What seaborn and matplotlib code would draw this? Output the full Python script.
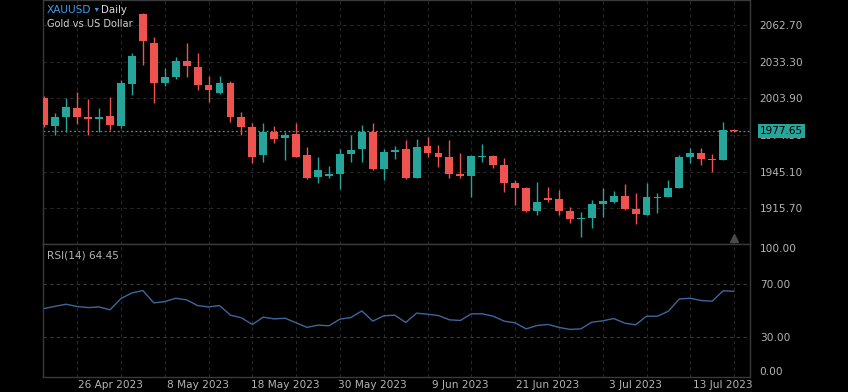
import numpy as np
import pandas as pd
import matplotlib
matplotlib.use("Agg")
import matplotlib.pyplot as plt
import matplotlib.transforms as mtransforms
import seaborn as sns

# ---------------- data ----------------
dates = pd.bdate_range("2023-04-18", "2023-07-14")

opens = [2003.9, 1981.7, 1988.7, 1996.4, 1989.2, 1987.6, 1989.5, 1981.7, 2015.4, 2071.3,
         2048.0, 2016.4, 2020.8, 2034.1, 2029.3, 2014.6, 2007.9, 2015.9, 1988.7, 1980.9,
         1958.2, 1977.2, 1971.9, 1975.1, 1958.2, 1941.1, 1942.0, 1943.2, 1959.0, 1963.0,
         1976.7, 1947.0, 1961.1, 1963.3, 1940.3, 1965.7, 1960.3, 1956.9, 1943.2, 1941.9,
         1957.1, 1957.9, 1950.7, 1936.3, 1932.3, 1913.8, 1923.7, 1922.9, 1913.8, 1906.9,
         1908.2, 1918.9, 1921.0, 1925.6, 1915.4, 1910.4, 1924.0, 1925.0, 1932.3, 1956.9,
         1960.0, 1955.3, 1954.5, 1978.5]
highs = [2006.0, 1991.9, 2003.9, 2009.2, 2003.4, 1995.9, 2005.2, 2018.6, 2040.0, 2072.5,
         2052.8, 2028.0, 2037.3, 2048.0, 2040.5, 2021.8, 2021.8, 2017.8, 1992.7, 1984.4,
         1983.9, 1982.0, 1977.2, 1984.4, 1964.6, 1957.1, 1949.6, 1963.0, 1974.5, 1982.5,
         1983.9, 1963.0, 1965.9, 1970.5, 1971.1, 1973.1, 1966.5, 1970.5, 1960.3, 1958.2,
         1967.3, 1958.2, 1955.8, 1938.4, 1933.1, 1937.1, 1933.1, 1930.4, 1917.0, 1913.0,
         1922.4, 1931.8, 1929.8, 1935.2, 1927.8, 1935.8, 1927.8, 1938.4, 1958.5, 1963.8,
         1963.8, 1959.3, 1984.7, 1979.0]
lows = [1980.5, 1974.5, 1977.2, 1983.3, 1974.5, 1977.2, 1978.5, 1979.9, 2006.6, 2030.6,
        1999.9, 2013.8, 2019.2, 2021.2, 2010.6, 2001.2, 2007.4, 1985.2, 1974.5, 1951.8,
        1953.1, 1968.3, 1954.5, 1956.5, 1939.5, 1936.3, 1939.8, 1930.9, 1953.1, 1953.1,
        1946.8, 1938.4, 1955.0, 1939.4, 1939.9, 1957.1, 1949.1, 1939.8, 1939.8, 1924.6,
        1953.1, 1947.8, 1929.0, 1918.4, 1913.0, 1910.4, 1920.5, 1910.4, 1903.7, 1892.5,
        1899.7, 1909.0, 1920.2, 1914.6, 1903.1, 1910.0, 1912.2, 1924.6, 1931.9, 1951.8,
        1950.4, 1945.1, 1954.1, 1976.8]
closes = [1982.5, 1988.7, 1996.7, 1988.7, 1987.6, 1989.2, 1982.3, 2015.9, 2037.8, 2049.6,
          2016.4, 2020.8, 2034.1, 2030.1, 2014.6, 2010.6, 2015.9, 1988.7, 1981.2, 1957.1,
          1977.2, 1971.5, 1974.5, 1957.1, 1940.3, 1946.4, 1943.0, 1959.0, 1962.5, 1977.2,
          1947.2, 1961.1, 1962.7, 1939.8, 1965.1, 1960.3, 1957.1, 1943.2, 1941.6, 1957.9,
          1957.9, 1950.4, 1936.0, 1932.3, 1913.3, 1920.5, 1922.4, 1913.6, 1906.9, 1908.2,
          1918.9, 1921.3, 1925.6, 1914.9, 1910.9, 1925.0, 1925.0, 1931.8, 1957.1, 1960.0,
          1955.0, 1954.5, 1978.5, 1977.65]
rsi = [51.5, 53.2, 54.7, 53.0, 52.2, 52.7, 50.5, 59.0, 63.2, 65.0,
       55.7, 56.7, 59.2, 58.0, 53.7, 52.7, 53.7, 46.5, 44.5, 39.5,
       45.0, 43.7, 44.2, 40.7, 37.3, 39.0, 38.5, 43.5, 44.7, 49.7,
       42.0, 46.0, 46.5, 41.0, 48.0, 47.2, 46.2, 43.0, 42.5, 47.5,
       47.5, 45.7, 42.0, 40.7, 36.2, 38.7, 39.5, 37.3, 35.8, 36.2,
       41.2, 42.2, 44.0, 40.5, 39.2, 45.7, 45.7, 49.5, 58.7, 59.2,
       57.5, 57.0, 64.8, 64.45]

price_ticks = [1915.70, 1945.10, 1974.50, 2003.90, 2033.30, 2062.70]
rsi_ticks = [0, 30, 70, 100]
last_price = 1977.65
symbol = "XAUUSD"
interval = "Daily"
description = "Gold vs US Dollar"
rsi_title = "RSI(14) 64.45"

# ---------------- style ----------------
BG = "#000000"
TEAL = "#26a69a"
RED = "#ef5350"
GRID = "#262626"
SPINE = "#3a3a3a"
TXT = "#b4b4b4"
RSI_C = "#3d679c"

sns.set_theme(style="dark", rc={
    "axes.facecolor": BG, "figure.facecolor": BG,
    "axes.edgecolor": SPINE, "grid.color": GRID,
    "text.color": TXT, "xtick.color": TXT, "ytick.color": TXT,
})
plt.rcParams["font.family"] = ["DejaVu Sans"]

W, H = 848, 392
fig = plt.figure(figsize=(W / 100, H / 100), dpi=100)
L, R = 43, 750
ax = fig.add_axes([L / W, (H - 244) / H, (R - L) / W, 244 / H])
ax2 = fig.add_axes([L / W, (H - 377) / H, (R - L) / W, 133 / H], sharex=ax)

x = np.arange(len(opens))
o = np.array(opens)
c = np.array(closes)
up = c >= o
cols = np.where(up, TEAL, RED)

# candles
ax.vlines(x, lows, highs, colors=cols, lw=1.0, zorder=3)
ax.bar(x, np.maximum(np.abs(c - o), 0.9), bottom=np.minimum(o, c), width=0.72,
       color=cols, linewidth=0, zorder=4)

# last price line
ax.axhline(last_price, color=TEAL, lw=0.9, ls=(0, (1.5, 2)), zorder=2)

# RSI
sns.lineplot(x=x, y=rsi, ax=ax2, color=RSI_C, lw=1.0, zorder=3)

# limits
ax.set_xlim(-0.12, 64.45)
ax.set_ylim(1887.1, 2082.7)
ax2.set_ylim(0, 100)

# grids
minor_pos = x[3::4]
label_idx = x[6::8]
for a in (ax, ax2):
    a.set_xticks(minor_pos, minor=True)
    a.grid(False)
    a.grid(True, which="minor", axis="x", color=GRID, ls=(0, (3, 3)), lw=0.8)
    a.tick_params(axis="both", which="both", length=0)
    for s in a.spines.values():
        s.set_color(SPINE)
        s.set_linewidth(1.0)
    a.set_facecolor(BG)
    a.set_axisbelow(True)

ax.set_yticks(price_ticks)
ax.set_yticklabels([f"{p:.2f}" for p in price_ticks])
ax.grid(True, which="major", axis="y", color=GRID, ls=(0, (3, 3)), lw=0.8)
ax.yaxis.tick_right()
ax.tick_params(axis="y", pad=7, labelsize=7.6, colors=TXT)
ax.tick_params(axis="x", labelbottom=False)

ax2.set_yticks(rsi_ticks)
ax2.set_yticklabels([f"{v:.2f}" for v in rsi_ticks])
ax2.grid(True, which="major", axis="y", color="#3a3a3a", ls=(0, (3, 3)), lw=0.8)
ax2.yaxis.tick_right()
ax2.tick_params(axis="y", pad=7, labelsize=7.6, colors=TXT)
labs = ax2.get_yticklabels()
labs[0].set_va("bottom")
labs[-1].set_va("top")

ax2.set_xticks(label_idx)
ax2.set_xticklabels([f"{d.day} {d:%b %Y}" for d in dates[label_idx]])
ax2.tick_params(axis="x", pad=2, labelsize=7.6, colors=TXT)
ax2.set_xlabel("")
ax2.set_ylabel("")

# last price box
trans = mtransforms.blended_transform_factory(ax.transAxes, ax.transData)
ax.text(1 + 10 / (R - L), last_price, f"{last_price:.2f}", transform=trans,
        ha="left", va="center", fontsize=7.6, color="#000000", zorder=10,
        bbox=dict(boxstyle="square,pad=0.18", fc=TEAL, ec="none"), clip_on=False)

# marker triangle at bottom under last candle
tri = mtransforms.blended_transform_factory(ax.transData, ax.transAxes)
ax.plot([x[-1]], [0.025], marker="^", ms=6, color="#4a4a4a", transform=tri,
        clip_on=False, zorder=6)

# titles
t1 = ax.text(4 / (R - L), 1 - 10 / 244, symbol, transform=ax.transAxes,
             ha="left", va="center", fontsize=7.6, color="#3d9be9",
             fontweight="medium", zorder=20)
t2 = ax.annotate(" \u25be ", xy=(1, 0.5), xycoords=t1, ha="left", va="center",
                 fontsize=6, color="#3d9be9", zorder=20)
ax.annotate(interval, xy=(1, 0.5), xycoords=t2, ha="left", va="center",
            fontsize=7.4, color="#d8d8d8", zorder=20)
ax.text(4 / (R - L), 1 - 24 / 244, description, transform=ax.transAxes,
        ha="left", va="center", fontsize=7.1, color="#d0d0d0", zorder=20)
ax2.text(4 / (R - L), 1 - 11 / 133, rsi_title, transform=ax2.transAxes,
         ha="left", va="center", fontsize=7.6, color=TXT)

fig.savefig("out.png", dpi=100, facecolor=BG)
